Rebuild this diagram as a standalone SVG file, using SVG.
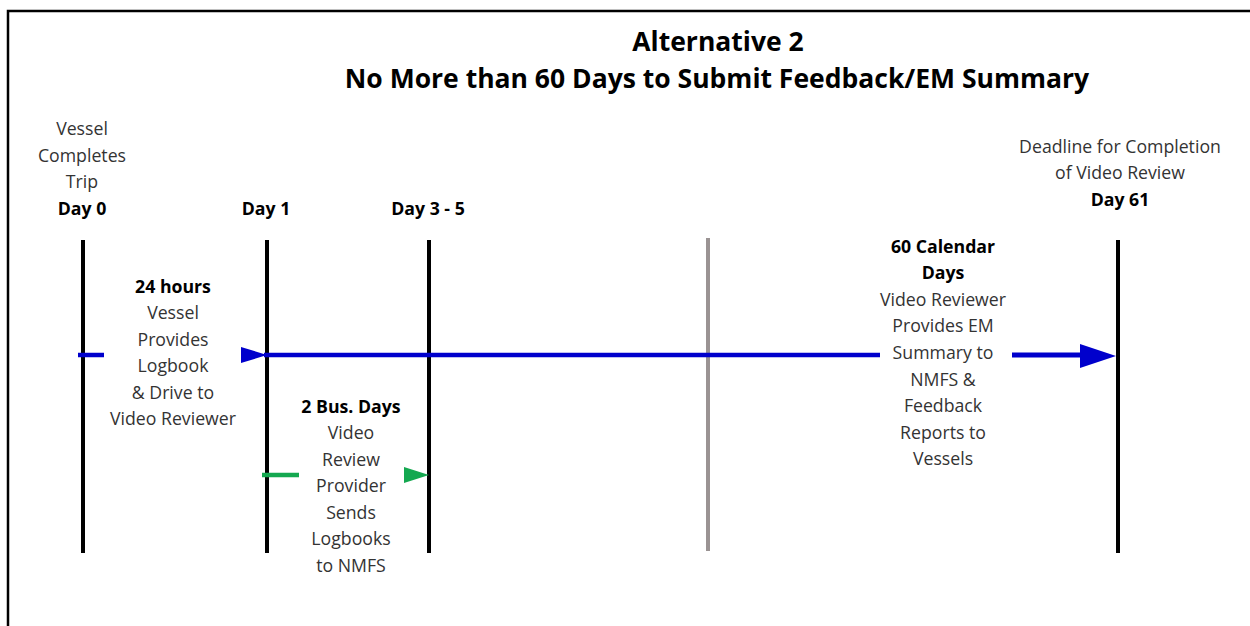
<svg xmlns="http://www.w3.org/2000/svg" width="1250" height="626" viewBox="0 0 1250 626">
<style>
text{font-family:"Open Sans","Noto Sans","Liberation Sans",sans-serif;font-size:17.7px;fill:#333;text-anchor:middle}
.b{font-weight:bold;fill:#000}
.t{font-weight:bold;font-size:26.5px;fill:#000}
.v{stroke:#000;stroke-width:4}
</style>
<rect width="1250" height="626" fill="#fff"/>
<path d="M8 626V11H1250" fill="none" stroke="#000" stroke-width="2.5"/>
<g id="title">
<text class="t" x="718" y="51">Alternative 2</text>
<text class="t" x="717" y="88">No More than 60 Days to Submit Feedback/EM Summary</text>
</g>
<g id="day0">
<line class="v" x1="83" y1="240" x2="83" y2="553"/>
<text x="82" y="135">Vessel</text>
<text x="82" y="162">Completes</text>
<text x="82" y="188">Trip</text>
<text class="b" x="82" y="215">Day 0</text>
</g>
<g id="day1">
<line class="v" x1="267" y1="240" x2="267" y2="553"/>
<text class="b" x="266" y="215">Day 1</text>
</g>
<g id="day3-5">
<line class="v" x1="429" y1="240" x2="429" y2="553"/>
<text class="b" x="428" y="215">Day 3 - 5</text>
</g>
<g id="midline">
<line x1="708" y1="238" x2="708" y2="551" stroke="#9a9393" stroke-width="4"/>
</g>
<g id="day61">
<line class="v" x1="1118" y1="240" x2="1118" y2="553"/>
<text x="1120" y="153">Deadline for Completion</text>
<text x="1120" y="179">of Video Review</text>
<text class="b" x="1120" y="206">Day 61</text>
</g>
<g id="label-24h">
<text class="b" x="173" y="293">24 hours</text>
<text x="173" y="319">Vessel</text>
<text x="173" y="346">Provides</text>
<text x="173" y="372">Logbook</text>
<text x="173" y="399">&amp; Drive to</text>
<text x="173" y="425">Video Reviewer</text>
</g>
<g id="label-2bus">
<text class="b" x="351" y="413">2 Bus. Days</text>
<text x="351" y="439">Video</text>
<text x="351" y="466">Review</text>
<text x="351" y="492">Provider</text>
<text x="351" y="519">Sends</text>
<text x="351" y="545">Logbooks</text>
<text x="351" y="572">to NMFS</text>
</g>
<g id="label-60cal">
<text class="b" x="943" y="253">60 Calendar</text>
<text class="b" x="943" y="279">Days</text>
<text x="943" y="306">Video Reviewer</text>
<text x="943" y="332">Provides EM</text>
<text x="943" y="359">Summary to</text>
<text x="943" y="386">NMFS &amp;</text>
<text x="943" y="412">Feedback</text>
<text x="943" y="439">Reports to</text>
<text x="943" y="465">Vessels</text>
</g>
<g id="connectors">
<line x1="78" y1="355" x2="104" y2="355" stroke="#0000cc" stroke-width="4.5"/>
<polygon points="241,347 267,355 241,363" fill="#0000cc"/>
<line x1="264" y1="355" x2="880" y2="355" stroke="#0000cc" stroke-width="4.5"/>
<line x1="1012" y1="355" x2="1082" y2="355" stroke="#0000cc" stroke-width="5"/>
<polygon points="1080,344 1116,356 1080,368" fill="#0000cc"/>
<line x1="262" y1="475" x2="299" y2="475" stroke="#14a850" stroke-width="4.5"/>
<polygon points="404,467 429,475 404,483" fill="#14a850"/>
</g>
</svg>
